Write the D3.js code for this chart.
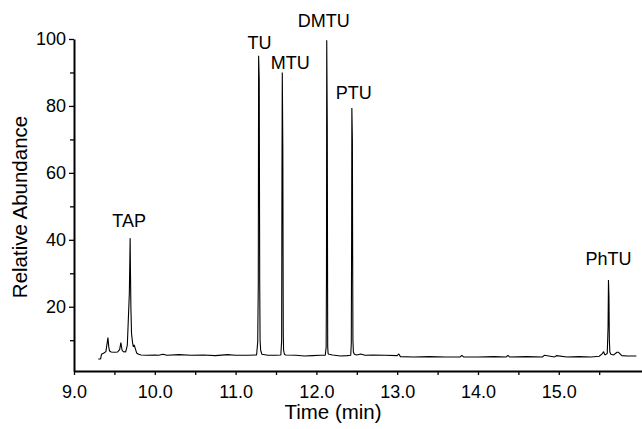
<!DOCTYPE html>
<html>
<head>
<meta charset="utf-8">
<script src="https://cdn.jsdelivr.net/npm/d3@7"></script>
<style>
  html, body { margin: 0; padding: 0; background: #fff; }
  svg { display: block; }
  text { font-family: "Liberation Sans", Arial, sans-serif; fill: #000; }
</style>
</head>
<body>
<svg id="chart" width="642" height="429"></svg>
<script>
// ---- data ----
const timeMin = [
  9.300, 9.330, 9.340, 9.370, 9.395, 9.420, 9.430, 9.440, 9.460, 9.500, 9.540, 9.565, 9.580, 9.595, 9.610, 9.640,
  9.660, 9.685, 9.695, 9.698, 9.704, 9.712, 9.725, 9.735, 9.745, 9.760, 9.775, 9.800, 9.830,
  9.900, 10.000, 10.050, 10.100, 10.150, 10.300, 10.450, 10.600, 10.750, 10.900, 11.000, 11.150, 11.260,
  11.274, 11.281, 11.285, 11.2925, 11.2985, 11.303, 11.310, 11.325, 11.400, 11.500, 11.560,
  11.570, 11.574, 11.578, 11.5845, 11.590, 11.594, 11.605, 11.620, 11.750, 11.850, 11.950, 12.050, 12.110,
  12.121, 12.125, 12.128, 12.1345, 12.140, 12.145, 12.155, 12.200, 12.300, 12.380, 12.425,
  12.432, 12.436, 12.439, 12.4455, 12.448, 12.452, 12.458, 12.470, 12.500, 12.550, 12.600, 12.700, 12.850, 13.000,
  13.020, 13.040, 13.200, 13.400, 13.600, 13.780, 13.800, 13.820, 14.000, 14.200, 14.350, 14.370, 14.390, 14.600,
  14.800, 14.820, 14.950, 14.970, 15.100, 15.250, 15.400, 15.500, 15.540, 15.555, 15.570, 15.600,
  15.610, 15.615, 15.621, 15.626, 15.632, 15.645, 15.680, 15.720, 15.740, 15.780, 15.850, 15.960
];
const abundance = [
  4.4, 4.4, 5.8, 6.2, 6.6, 10.8, 8.0, 6.8, 6.5, 6.4, 6.5, 7.2, 9.3, 7.0, 6.6, 6.5,
  8.5, 24.0, 40.5, 32.0, 20.0, 12.0, 9.2, 8.0, 8.6, 7.4, 6.2, 5.8, 5.6,
  5.5, 5.6, 5.5, 5.8, 5.5, 5.7, 5.5, 5.6, 5.4, 5.7, 5.5, 5.5, 5.6,
  9.5, 27.0, 95.0, 88.0, 27.0, 10.0, 7.0, 5.8, 5.5, 5.5, 5.6,
  10.0, 60.0, 90.0, 68.0, 12.0, 7.0, 5.8, 5.6, 5.5, 5.3, 5.4, 5.5, 5.5,
  8.0, 30.0, 99.6, 75.0, 8.0, 6.0, 5.8, 5.6, 5.3, 5.4, 5.5,
  9.0, 40.0, 79.4, 70.0, 43.0, 10.0, 6.5, 5.8, 5.6, 5.9, 5.5, 5.6, 5.5, 5.4,
  5.9, 5.1, 5.0, 5.1, 5.0, 5.0, 5.5, 5.0, 5.0, 5.1, 5.0, 5.5, 5.0, 5.1,
  5.0, 5.5, 5.0, 5.4, 5.0, 5.1, 5.0, 5.2, 6.0, 6.6, 5.6, 6.0,
  14.0, 28.0, 23.0, 10.0, 6.5, 5.8, 5.6, 6.4, 6.4, 5.4, 5.3, 5.3
];
const peakNames = ["TAP", "TU", "MTU", "DMTU", "PTU", "PhTU"];
const peakTimes = [9.695, 11.285, 11.578, 12.128, 12.439, 15.615];
const peakHeights = [40.5, 95.0, 90.0, 99.6, 79.4, 28.0];
const yMajorTicks = [20, 40, 60, 80, 100];
const yMinorTicks = [10, 30, 50, 70, 90];
const xMajorTicks = [9, 10, 11, 12, 13, 14, 15];
const xMinorTicks = [9.5, 10.5, 11.5, 12.5, 13.5, 14.5, 15.5];
const xTitle = "Time (min)";
const yTitle = "Relative Abundance";

// ---- drawing ----
const svg = d3.select("#chart");
const x = d3.scaleLinear().domain([9, 16.03]).range([74, 642]);
const y = d3.scaleLinear().domain([0.8, 100]).range([371, 39]);

const pts = timeMin.map((t, i) => [t, abundance[i]]);
const line = d3.line().x(d => x(d[0])).y(d => y(d[1]));
svg.append("path")
  .datum(pts)
  .attr("d", line)
  .attr("fill", "none")
  .attr("stroke", "#000")
  .attr("stroke-width", 1.1)
  .attr("stroke-linejoin", "bevel");

// y axis
const gy = svg.append("g").attr("transform", "translate(74,0)");
gy.call(d3.axisLeft(y).tickValues(yMajorTicks).tickSize(5).tickSizeOuter(0).tickPadding(3).tickFormat(d3.format("d")));
gy.append("g").call(d3.axisLeft(y).tickValues(yMinorTicks).tickSize(4).tickSizeOuter(0).tickFormat(""))
  .select(".domain").remove();
// x axis
const gx = svg.append("g").attr("transform", "translate(0,371)");
gx.call(d3.axisBottom(x).tickValues(xMajorTicks).tickSize(4).tickSizeOuter(0).tickPadding(10).tickFormat(d3.format(".1f")));
gx.append("g").call(d3.axisBottom(x).tickValues(xMinorTicks).tickSize(4).tickSizeOuter(0).tickFormat(""))
  .select(".domain").remove();

svg.selectAll(".domain").attr("stroke", "#000").attr("stroke-width", 2);
svg.selectAll(".tick line").attr("stroke", "#000").attr("stroke-width", 1.3);
svg.selectAll(".tick text").attr("font-size", 18).attr("font-family", "Liberation Sans, Arial, sans-serif");

// axis titles
svg.append("text")
  .attr("x", 333).attr("y", 419)
  .attr("text-anchor", "middle")
  .attr("font-size", 20.5)
  .text(xTitle);
svg.append("text")
  .attr("transform", "translate(27,207) rotate(-90)")
  .attr("text-anchor", "middle")
  .attr("font-size", 20.5)
  .text(yTitle);

// peak labels (offsets in px relative to each peak top)
const labelDx = [-1, 1, 8, -3, 2, 0];
const labelGap = [11, 7, 3, 13, 9, 15];
svg.selectAll(".plabel")
  .data(peakNames)
  .join("text")
  .attr("class", "plabel")
  .attr("x", (d, i) => x(peakTimes[i]) + labelDx[i])
  .attr("y", (d, i) => y(peakHeights[i]) - labelGap[i])
  .attr("text-anchor", "middle")
  .attr("font-size", 18)
  .text(d => d);
</script>
</body>
</html>
